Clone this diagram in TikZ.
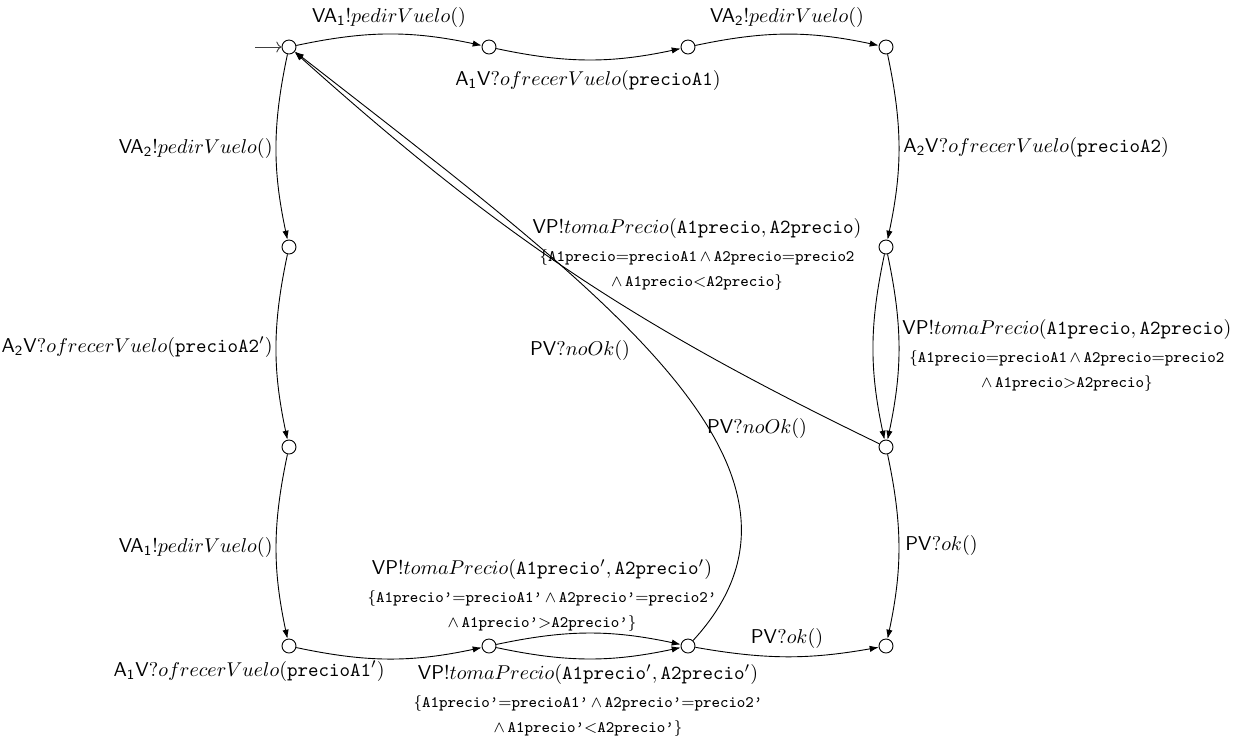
\documentclass[tikz,border=0pt]{standalone}
\usetikzlibrary{arrows.meta}
\newcommand{\tq}{\textquoteright}
\begin{document}
\begin{tikzpicture}[x=0.5pt,y=-0.5pt,line width=0.45pt,
  state/.style={circle,draw,minimum size=7pt,inner sep=0pt},
  trans/.style={-{Latex[length=4.5pt,width=3.2pt]}},
  lbl/.style={inner sep=0pt},
  multi/.style={inner sep=0pt,align=center}]
\useasboundingbox (0,0) rectangle (1250,736);

% states
\node[state] (q0) at (289,47) {};
\node[state] (q1) at (489,47) {};
\node[state] (q2) at (688,47) {};
\node[state] (q3) at (886,47) {};
\node[state] (r1) at (886,247) {};
\node[state] (r2) at (886,447) {};
\node[state] (r3) at (886,646) {};
\node[state] (l1) at (289,247) {};
\node[state] (l2) at (289,447) {};
\node[state] (l3) at (289,646) {};
\node[state] (b1) at (489,646) {};
\node[state] (b2) at (688,646) {};
\coordinate (init) at (255,47);

% initial arrow
\draw[->,black!75] (init) -- (q0);

% transitions
\draw[trans] (q0) to[bend left=12] (q1);
\draw[trans] (q1) to[bend right=12] (q2);
\draw[trans] (q2) to[bend left=12] (q3);
\draw[trans] (q3) to[bend left=12] (r1);
\draw[trans] (r1) to[bend left=12] (r2);
\draw[trans] (r1) to[bend right=12] (r2);
\draw[trans] (r2) to[bend left=12] (r3);
\draw[trans] (q0) to[bend right=12] (l1);
\draw[trans] (l1) to[bend right=12] (l2);
\draw[trans] (l2) to[bend right=12] (l3);
\draw[trans] (l3) to[bend right=12] (b1);
\draw[trans] (b1) to[bend left=12] (b2);
\draw[trans] (b1) to[bend right=12] (b2);
\draw[trans] (b2) to[bend right=10] (r3);
\draw[trans] (r2) to[bend left=8] (q0);
\draw[trans] (b2) .. controls (850,470) and (600,290) .. (q0);

% labels
\node[lbl] (t1) at (389,17) {$\mathsf{VA}_{\mathsf{1}}!pedirVuelo()$};
\node[lbl] (t2) at (588,80) {$\mathsf{A}_{\mathsf{1}}\mathsf{V}?ofrecerVuelo(\mathtt{precioA1})$};
\node[lbl] (t3) at (787,17) {$\mathsf{VA}_{\mathsf{2}}!pedirVuelo()$};
\node[lbl,anchor=west] (t4) at (903,147) {$\mathsf{A}_{\mathsf{2}}\mathsf{V}?ofrecerVuelo(\mathtt{precioA2})$};
\node[lbl,anchor=east] (t5) at (273,148) {$\mathsf{VA}_{\mathsf{2}}!pedirVuelo()$};
\node[lbl,anchor=east] (t6) at (273,347) {$\mathsf{A}_{\mathsf{2}}\mathsf{V}?ofrecerVuelo(\mathtt{precioA2}')$};
\node[lbl,anchor=east] (t7) at (273,547) {$\mathsf{VA}_{\mathsf{1}}!pedirVuelo()$};
\node[lbl,anchor=east] (t8) at (385,671) {$\mathsf{A}_{\mathsf{1}}\mathsf{V}?ofrecerVuelo(\mathtt{precioA1}')$};

\node[multi,anchor=north] (t9) at (697,218) {$\mathsf{VP}!tomaPrecio(\mathtt{A1precio},\mathtt{A2precio})$\\[2pt]
  {\footnotesize$\{$\texttt{A1precio}$=$\texttt{precioA1}\,$\wedge$\,\texttt{A2precio}$=$\texttt{precio2}}\\[0.5pt]
  {\footnotesize$\wedge$\,\texttt{A1precio}$<$\texttt{A2precio}$\}$}};
\node[multi,anchor=north west] (t10) at (902,319) {$\mathsf{VP}!tomaPrecio(\mathtt{A1precio},\mathtt{A2precio})$\\[2pt]
  {\footnotesize$\{$\texttt{A1precio}$=$\texttt{precioA1}\,$\wedge$\,\texttt{A2precio}$=$\texttt{precio2}}\\[0.5pt]
  {\footnotesize$\wedge$\,\texttt{A1precio}$>$\texttt{A2precio}$\}$}};
\node[multi,anchor=north] (t11) at (542,559) {$\mathsf{VP}!tomaPrecio(\mathtt{A1precio}',\mathtt{A2precio}')$\\[2pt]
  {\footnotesize$\{$\texttt{A1precio\tq}$=$\texttt{precioA1\tq}\,$\wedge$\,\texttt{A2precio\tq}$=$\texttt{precio2\tq}}\\[0.5pt]
  {\footnotesize$\wedge$\,\texttt{A1precio\tq}$>$\texttt{A2precio\tq}$\}$}};
\node[multi,anchor=north] (t12) at (588,664) {$\mathsf{VP}!tomaPrecio(\mathtt{A1precio}',\mathtt{A2precio}')$\\[2pt]
  {\footnotesize$\{$\texttt{A1precio\tq}$=$\texttt{precioA1\tq}\,$\wedge$\,\texttt{A2precio\tq}$=$\texttt{precio2\tq}}\\[0.5pt]
  {\footnotesize$\wedge$\,\texttt{A1precio\tq}$<$\texttt{A2precio\tq}$\}$}};

\node[lbl] (t13) at (580,350) {$\mathsf{PV}?noOk()$};
\node[lbl] (t14) at (757,428) {$\mathsf{PV}?noOk()$};
\node[lbl,anchor=west] (t15) at (905,545) {$\mathsf{PV}?ok()$};
\node[lbl] (t16) at (787,638) {$\mathsf{PV}?ok()$};
\end{tikzpicture}
\end{document}
